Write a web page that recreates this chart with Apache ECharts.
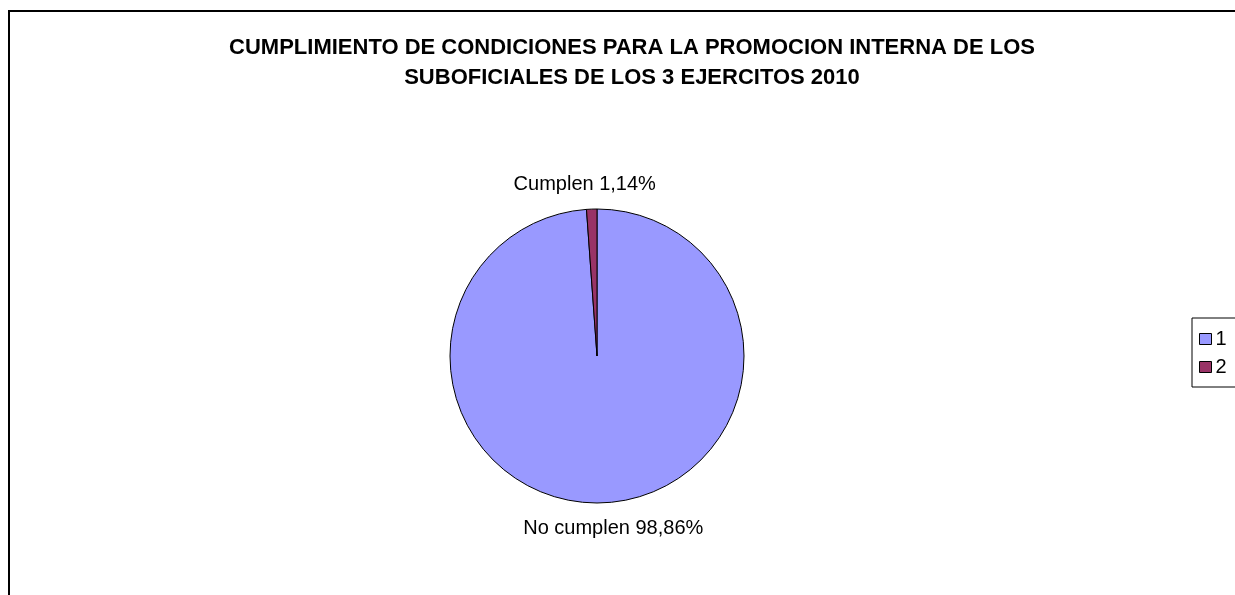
<!DOCTYPE html>
<html>
<head>
<meta charset="utf-8">
<script src="https://cdn.jsdelivr.net/npm/echarts@6/dist/echarts.min.js"></script>
<style>
html,body{margin:0;padding:0;background:#fff;}
#chart{width:1235px;height:595px;}
</style>
</head>
<body>
<div id="chart"></div>
<script>
const titleText = 'CUMPLIMIENTO DE CONDICIONES PARA LA PROMOCION INTERNA DE LOS\nSUBOFICIALES DE LOS 3 EJERCITOS 2010';
const categories = ['1', '2'];
const sliceLabels = ['No cumplen', 'Cumplen'];
const values = [98.86, 1.14];
const colors = ['#9999FF', '#993366'];

const chart = echarts.init(document.getElementById('chart'), null, {renderer: 'canvas'});
const font = 'Liberation Sans, Arial, sans-serif';

const option = {
  animation: false,
  backgroundColor: '#ffffff',
  color: colors,
  title: {
    text: titleText,
    left: 627,
    textAlign: 'center',
    top: 28,
    textStyle: {
      fontFamily: font,
      fontSize: 22,
      fontWeight: 'bold',
      color: '#000',
      lineHeight: 30
    }
  },
  legend: {
    orient: 'vertical',
    left: 1192,
    top: 318,
    padding: [11, 30, 10, 7],
    itemGap: 8,
    itemWidth: 12,
    itemHeight: 11,
    icon: 'rect',
    borderColor: '#000',
    borderWidth: 1,
    borderRadius: 0,
    data: categories,
    itemStyle: {borderColor: '#000', borderWidth: 1},
    textStyle: {fontFamily: font, fontSize: 20, color: '#000', padding: [0, 0, 0, -1]}
  },
  graphic: [{
    type: 'rect',
    shape: {x: 9, y: 11, width: 1400, height: 800},
    style: {fill: 'none', stroke: '#000', lineWidth: 2},
    silent: true,
    z: 100
  }],
  series: [{
    type: 'pie',
    center: [597, 356],
    radius: 147,
    startAngle: 90,
    clockwise: true,
    avoidLabelOverlap: false,
    itemStyle: {borderColor: '#000', borderWidth: 1},
    emphasis: {disabled: true},
    label: {
      show: true,
      position: 'outside',
      fontFamily: font,
      fontSize: 20,
      color: '#000',
      formatter: function (p) {
        return sliceLabels[p.dataIndex] + ' ' + values[p.dataIndex].toFixed(2).replace('.', ',') + '%';
      }
    },
    labelLine: {show: false, length: 0, length2: 0},
    labelLayout: function (p) {
      if (p.dataIndex === 0) {
        return {dx: 6, dy: 26, align: 'center', verticalAlign: 'middle'};
      }
      return {dx: -2, dy: -25, align: 'center', verticalAlign: 'middle'};
    },
    data: categories.map(function (c, i) { return {name: c, value: values[i]}; })
  }]
};
chart.setOption(option);
</script>
</body>
</html>
